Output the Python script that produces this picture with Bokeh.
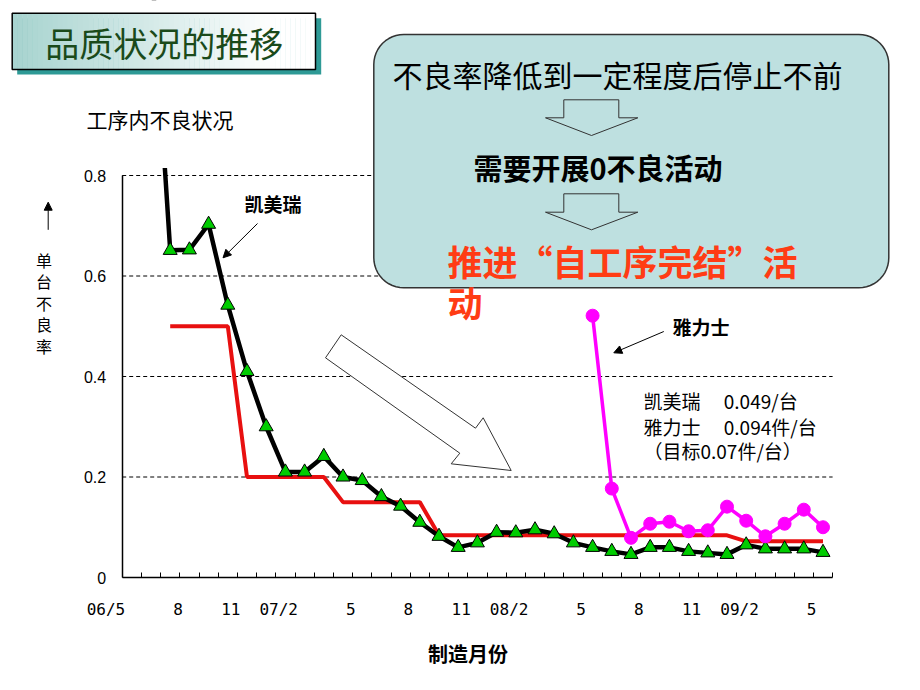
import math
from bokeh.plotting import figure
from bokeh.models import Range1d, LinearAxis, FixedTicker, Arrow, NormalHead
from bokeh.core.properties import value
from bokeh.embed import file_html
from bokeh.resources import INLINE

# ---------------- data ----------------
n_months = 37                      # 06/5 .. 09/5
x_tick_labels = ["06/5", "8", "11", "07/2", "5", "8", "11", "08/2", "5", "8", "11", "09/2", "5"]
x_label_step = 3
y_ticks = [0, 0.2, 0.4, 0.6, 0.8]

camry_start = 1                    # 凯美瑞 first month index
camry = [1.24, 0.651, 0.652, 0.703, 0.542, 0.410, 0.300, 0.210, 0.210, 0.241,
         0.200, 0.193, 0.161, 0.142, 0.110, 0.082, 0.060, 0.069, 0.090, 0.089,
         0.095, 0.087, 0.069, 0.060, 0.052, 0.046, 0.060, 0.060, 0.052, 0.049,
         0.046, 0.065, 0.057, 0.057, 0.057, 0.050]

target_start = 2                   # red target line
target = [0.50, 0.50, 0.50, 0.50,
          0.20, 0.20, 0.20, 0.20, 0.20,
          0.15, 0.15, 0.15, 0.15, 0.15,
          0.084, 0.084, 0.084, 0.084, 0.084, 0.084, 0.084, 0.084,
          0.084, 0.084, 0.084, 0.084, 0.084, 0.084, 0.084, 0.084,
          0.072, 0.072, 0.072, 0.072, 0.072]

yaris_start = 24                   # 雅力士 first month index
yaris = [0.521, 0.177, 0.079, 0.107, 0.111, 0.092, 0.094, 0.141, 0.113, 0.082,
         0.107, 0.135, 0.100]

# ---------------- page geometry (reference pixels) ----------------
X0, DX = 121.7, 19.2     # pixel of month boundary 0, pixels per month
Y0, DY = 577.0, 502.5    # pixel of value 0, pixels per unit


def X(px):
    return (px - X0) / DX


def Y(py):
    return (Y0 - py) / DY


W, H = 904, 674
p = figure(width=W, height=H, x_range=Range1d(X(0), X(W)), y_range=Range1d(Y(H), Y(0)),
           x_axis_type=None, y_axis_type=None, toolbar_location=None, output_backend="svg",
           min_border=0, outline_line_color=None)
p.xgrid.visible = False
p.ygrid.visible = False

CJK = value("Noto Sans CJK SC")


def txt(px, py, s, size, color="black", bold=False, align="left", font=CJK):
    p.text(x=[X(px)], y=[Y(py)], text=[s], text_font=font, text_font_size=f"{size}px",
           text_font_style="bold" if bold else "normal", text_color=color,
           text_align=align, text_baseline="middle")


def poly(pts, fill="white", line="#333333", lw=1.0, falpha=1.0):
    p.patch(x=[X(a) for a, b in pts], y=[Y(b) for a, b in pts], fill_color=fill,
            fill_alpha=falpha, line_color=line, line_width=lw)


def rounded(l, t, r, b, rad, n=12):
    pts = []
    for cx, cy, a0 in [(r - rad, t + rad, -90), (r - rad, b - rad, 0), (l + rad, b - rad, 90), (l + rad, t + rad, 180)]:
        for k in range(n + 1):
            a = math.radians(a0 + 90 * k / n)
            pts.append((cx + rad * math.cos(a), cy + rad * math.sin(a)))
    return pts


# ---------------- grid & axes ----------------
p.segment(x0=0, x1=n_months, y0=y_ticks[1:], y1=y_ticks[1:], line_color="black", line_width=1, line_dash="4 3")

# axis line + monthly tick marks
xaxis = LinearAxis(fixed_location=0, bounds=(0, n_months),
                   ticker=FixedTicker(ticks=[], minor_ticks=list(range(n_months + 1))),
                   axis_line_color="black", axis_line_width=1.5,
                   major_tick_in=0, major_tick_out=0,
                   minor_tick_in=5, minor_tick_out=0, minor_tick_line_color="black", minor_tick_line_width=1)
p.add_layout(xaxis, "below")

# month labels, right-aligned to their month boundary
lab_pos = list(range(0, n_months, x_label_step))
char_w = 0.602 * 16
lab_ticks = [k + (3 - len(s) * char_w / 2) / DX for k, s in zip(lab_pos, x_tick_labels)]
xlab = LinearAxis(fixed_location=0, bounds=(-3, n_months),
                  ticker=FixedTicker(ticks=lab_ticks),
                  major_label_overrides=dict(zip(lab_ticks, x_tick_labels)),
                  axis_line_color=None, major_tick_line_color=None, minor_tick_line_color=None,
                  major_tick_in=0, major_tick_out=0, major_label_standoff=22,
                  major_label_text_font="DejaVu Sans Mono", major_label_text_font_size="16px",
                  major_label_text_color="black")
p.add_layout(xlab, "below")

yaxis = LinearAxis(fixed_location=0, bounds=(0, 0.8), ticker=FixedTicker(ticks=y_ticks),
                   major_label_overrides={0: "0"}, axis_line_color="black", axis_line_width=1.5,
                   major_tick_in=0, major_tick_out=0, minor_tick_line_color=None,
                   major_label_standoff=16, major_label_text_font="Liberation Sans",
                   major_label_text_font_size="16px", major_label_text_color="black")
p.add_layout(yaxis, "left")

# big diagonal outline arrow
poly([(340.7, 334.3), (475, 427.7), (482.7, 417.3), (510.7, 470), (450.7, 463.3), (459.3, 452.7), (325, 357.3)],
     fill="white", line="#333333", lw=1)

# ---------------- series ----------------
tx = [target_start + j + 0.5 for j in range(len(target))]
p.line(tx, target, line_color="#E81010", line_width=4)

cx = [camry_start + j + 0.5 for j in range(len(camry))]
p.line(cx, camry, line_color="black", line_width=4.5)
p.scatter(cx, camry, marker="triangle", size=14, fill_color="#00CC00", line_color="black", line_width=1)

yx = [yaris_start + j + 0.5 for j in range(len(yaris))]
p.line(yx, yaris, line_color="#FF00FF", line_width=3.5)
p.scatter(yx, yaris, marker="circle", size=13, fill_color="#FF00FF", line_color="#FF00FF")

# plot-area top clip for the off-scale first point
p.quad(left=[X(138)], right=[X(178)], top=[Y(-90)], bottom=[Y(167.5)], fill_color="white", line_color=None)

# ---------------- title box ----------------
p.quad(left=[X(16.7)], right=[X(320.7)], top=[Y(17.7)], bottom=[Y(74)], fill_color="#2E9A96", line_color=None)
ns = 60
tl, tr = 11.7, 315.0
lefts, rights, cols = [], [], []
c0, c1 = (168, 212, 208), (255, 255, 255)
for k in range(ns):
    f = k / (ns - 1)
    lefts.append(X(tl + (tr - tl) * k / ns))
    rights.append(X(tl + (tr - tl) * (k + 1) / ns + 0.5))
    cols.append("#%02x%02x%02x" % tuple(int(c0[j] + (c1[j] - c0[j]) * min(1, f * 1.15)) for j in range(3)))
p.quad(left=lefts, right=rights, top=Y(12.7), bottom=Y(69), fill_color=cols, line_color=None)
p.quad(left=[X(tl)], right=[X(tr)], top=[Y(12.7)], bottom=[Y(69)], fill_alpha=0, line_color="black", line_width=1.5)
txt(163.7, 42, "品质状况的推移", 34, color="#1A4A1A", align="center")

# ---------------- callout ----------------
poly(rounded(373.3, 34, 888.3, 287.3, 30), fill="#BEE0E0", line="#333333", lw=1.5)
for top, sh, tip in [(99.3, 117.3, 135), (193.3, 211.7, 229.3)]:
    poly([(563.3, top), (618.3, top), (618.3, sh), (637.3, sh), (591, tip), (545, sh), (563.3, sh)],
         fill="white", falpha=0, line="#333333", lw=1)
txt(617, 73.5, "不良率降低到一定程度后停止不前", 30, align="center")
txt(597.5, 166, "需要开展0不良活动", 29, bold=True, align="center")
txt(447, 260, "推进“自工序完结”活", 35, color="#FF3C14", bold=True)
txt(447, 300.7, "动", 35, color="#FF3C14", bold=True)

# ---------------- labels ----------------
txt(86, 118, "工序内不良状况", 21)
for j, ch in enumerate("单台不良率"):
    txt(43.5, 259 + 21.6 * j, ch, 16, align="center")
p.add_layout(Arrow(end=NormalHead(size=8, fill_color="black", line_color="black"),
                   x_start=X(47.7), y_start=Y(229.3), x_end=X(47.7), y_end=Y(201.7),
                   line_color="black", line_width=1))

txt(244, 203.3, "凯美瑞", 19, bold=True)
p.add_layout(Arrow(end=NormalHead(size=8, fill_color="black", line_color="black"),
                   x_start=X(257), y_start=Y(223), x_end=X(222.5), y_end=Y(257.3),
                   line_color="black", line_width=1))
txt(672, 326, "雅力士", 19, bold=True)
p.add_layout(Arrow(end=NormalHead(size=8, fill_color="black", line_color="black"),
                   x_start=X(663.3), y_start=Y(331), x_end=X(613.3), y_end=Y(352.3),
                   line_color="black", line_width=1))

txt(643, 400, "凯美瑞　 0.049/台", 19)
txt(643, 425.5, "雅力士　 0.094件/台", 19)
txt(643, 450, "（目标0.07件/台）", 19)

txt(467.5, 653.3, "制造月份", 20, bold=True, align="center")

open("out.html", "w").write(file_html(p, INLINE))
